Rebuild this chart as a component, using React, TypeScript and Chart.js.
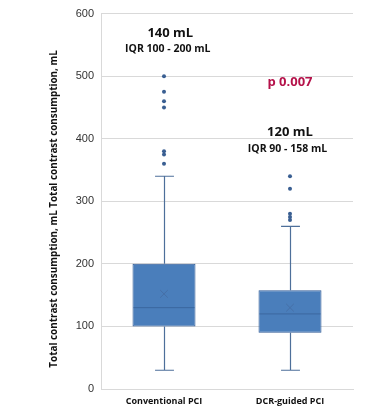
import { useEffect, useRef } from 'react';
import { Chart, registerables } from 'chart.js';
Chart.register(...registerables);

const categories = ['Conventional PCI', 'DCR-guided PCI'];
const mins = [30, 30];
const q1s = [100, 90];
const medians = [130, 120];
const q3s = [200, 158];
const maxs = [340, 260];
const means = [152, 130];
const outliers = [
  [360, 375, 380, 450, 460, 475, 500],
  [270, 275, 280, 320, 340],
];
const yTicks = [0, 100, 200, 300, 400, 500, 600];

const annotTexts = ['140 mL', 'IQR 100 - 200 mL', 'p 0.007', '120 mL', 'IQR 90 - 158 mL'];
const annotX = [0.05, 0.03, 1.0, 1.0, 0.98];
const annotY = [568, 543, 490, 411, 384];
const annotSize = [13, 10.5, 13, 13, 10.5];
const annotColor = ['#111111', '#111111', '#b5124a', '#111111', '#111111'];

const boxFill = '#4a7ebb';
const boxEdge = '#2f5a95';
const whiskerColor = '#4d6f9a';
const medianColor = '#3b679f';
const meanColor = '#4670a8';
const dotColor = '#3a5f92';

export default function App() {
  const ref = useRef<HTMLCanvasElement>(null);
  useEffect(() => {
    document.body.style.margin = '0';
    const canvas = ref.current;
    if (!canvas) return;

    const boxPlugin = {
      id: 'boxExtras',
      beforeDatasetsDraw(chart: any) {
        const { ctx, scales } = chart;
        const x = scales.x, y = scales.y;
        const meta = chart.getDatasetMeta(0);
        ctx.save();
        ctx.strokeStyle = whiskerColor;
        ctx.lineWidth = 1.2;
        categories.forEach((_, i) => {
          const cx = Math.round(x.getPixelForValue(i)) + 0.5;
          const bw = meta.data[i].width;
          const cap = bw * 0.3 / 2;
          const yMin = y.getPixelForValue(mins[i]);
          const yMax = y.getPixelForValue(maxs[i]);
          const yQ1 = y.getPixelForValue(q1s[i]);
          const yQ3 = y.getPixelForValue(q3s[i]);
          ctx.beginPath();
          ctx.moveTo(cx, yQ3); ctx.lineTo(cx, yMax);
          ctx.moveTo(cx - cap, yMax); ctx.lineTo(cx + cap, yMax);
          ctx.moveTo(cx, yQ1); ctx.lineTo(cx, yMin);
          ctx.moveTo(cx - cap, yMin); ctx.lineTo(cx + cap, yMin);
          ctx.stroke();
        });
        ctx.restore();
      },
      afterDatasetsDraw(chart: any) {
        const { ctx, scales } = chart;
        const x = scales.x, y = scales.y;
        const meta = chart.getDatasetMeta(0);
        ctx.save();
        categories.forEach((_, i) => {
          const cx = x.getPixelForValue(i);
          const bw = meta.data[i].width;
          const yMed = y.getPixelForValue(medians[i]);
          ctx.strokeStyle = medianColor;
          ctx.lineWidth = 1;
          ctx.beginPath();
          ctx.moveTo(cx - bw / 2 + 1, yMed); ctx.lineTo(cx + bw / 2 - 1, yMed);
          ctx.stroke();
          const yMean = y.getPixelForValue(means[i]);
          const s = 3.8;
          ctx.lineWidth = 1;
          ctx.strokeStyle = meanColor;
          ctx.beginPath();
          ctx.moveTo(cx - s, yMean - s); ctx.lineTo(cx + s, yMean + s);
          ctx.moveTo(cx - s, yMean + s); ctx.lineTo(cx + s, yMean - s);
          ctx.stroke();
        });
        ctx.textAlign = 'center';
        ctx.textBaseline = 'middle';
        annotTexts.forEach((t, i) => {
          ctx.font = `bold ${annotSize[i]}px "Open Sans"`;
          ctx.fillStyle = annotColor[i];
          ctx.fillText(t, x.getPixelForValue(annotX[i]), y.getPixelForValue(annotY[i]));
        });
        ctx.restore();
      },
    };

    const outlierData: { x: string; y: number }[] = [];
    outliers.forEach((arr, i) => arr.forEach((v) => outlierData.push({ x: categories[i], y: v })));

    const chart = new Chart(canvas, {
      type: 'bar',
      data: {
        labels: categories,
        datasets: [
          {
            type: 'bar',
            data: categories.map((_, i) => [q1s[i], q3s[i]]) as any,
            backgroundColor: boxFill,
            borderColor: boxEdge,
            borderWidth: 1,
            borderSkipped: false,
            categoryPercentage: 1,
            barPercentage: 0.5,
          } as any,
          {
            type: 'line',
            data: outlierData as any,
            showLine: false,
            pointRadius: 2,
            pointBackgroundColor: dotColor,
            pointBorderColor: dotColor,
            pointBorderWidth: 0,
          } as any,
        ],
      },
      options: {
        animation: false,
        responsive: false,
        maintainAspectRatio: false,
        layout: { padding: { top: 11, right: 36, left: 0, bottom: 0 } },
        plugins: { legend: { display: false }, tooltip: { enabled: false } },
        scales: {
          x: {
            grid: { display: false, drawTicks: false },
            border: { display: true, color: '#d9d9d9', width: 1 },
            ticks: {
              font: { family: 'Open Sans', size: 9, weight: 'bold' },
              color: '#111111',
              padding: 7,
            },
            afterFit: (s: any) => { s.height = 30; },
          },
          y: {
            min: 0,
            max: 600,
            afterBuildTicks: (s: any) => { s.ticks = yTicks.map((v) => ({ value: v })); },
            grid: { color: '#d9d9d9', drawTicks: false, lineWidth: 1 },
            border: { display: true, color: '#d9d9d9', width: 1 },
            ticks: {
              font: { family: 'Liberation Sans', size: 11 },
              color: '#333333',
              padding: 7,
            },
            title: {
              display: true,
              text: 'Total contrast consumption, mL Total contrast consumption, mL      ',
              font: { family: 'Open Sans', size: 9.9, weight: 'bold' },
              color: '#111111',
              padding: { top: 48, bottom: 0 },
            },
            afterFit: (s: any) => { s.width = 101; },
          },
        },
      },
      plugins: [boxPlugin],
    });
    return () => chart.destroy();
  }, []);

  return (
    <div style={{ width: 389, height: 419, background: '#ffffff' }}>
      <canvas ref={ref} width={389} height={419} />
    </div>
  );
}
